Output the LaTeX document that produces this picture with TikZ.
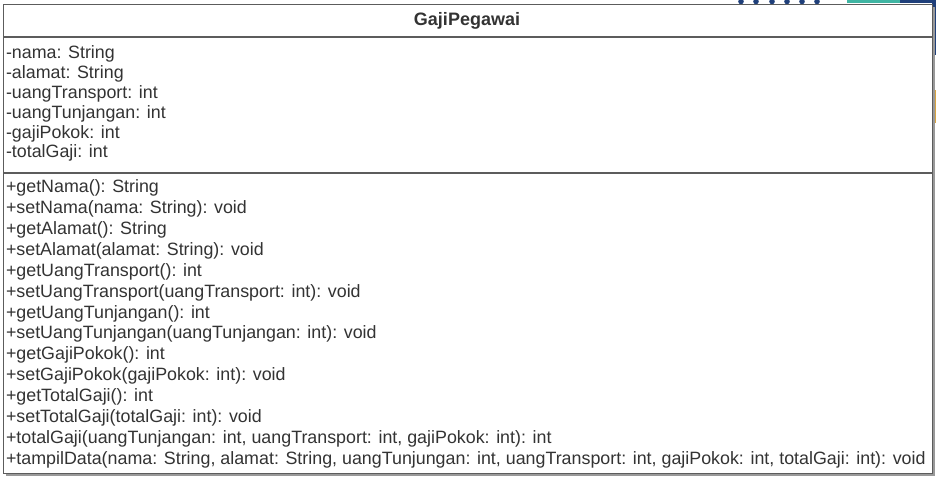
\documentclass[tikz,border=0pt]{standalone}
\usepackage{fontspec}
\setmainfont{Liberation Sans}
\usetikzlibrary{positioning, shadows}
\def\attrsep{19.8}
\def\opsep{20.85}
\definecolor{umlline}{HTML}{5C5C5C}
\definecolor{umltext}{HTML}{333333}
\definecolor{navy}{HTML}{1F3F7A}
\definecolor{seagreen}{HTML}{3FB5A3}
\definecolor{amber}{HTML}{D9A441}
\tikzstyle{class box}=[draw=umlline, line width=1.4pt, fill=white, inner sep=0pt,
  drop shadow={shadow xshift=2pt, shadow yshift=-2pt, fill=black!40, opacity=1}]
\tikzstyle{member}=[anchor=base west, inner sep=0pt, text=umltext, font=\fontsize{17.85}{20}\selectfont]
\tikzstyle{class name}=[member, anchor=base, font=\fontsize{18}{20}\selectfont\bfseries]
\tikzstyle{divider}=[draw=umlline, line width=1.4pt]

\begin{document}
\begin{tikzpicture}[x=1pt, y=-1pt]
\useasboundingbox (0,0) rectangle (936,478);

% Bits of the page behind the box
\foreach \x in {741,756,772,787,802,817}
\fill[navy] (\x,1.5) circle (2.8);
\fill[seagreen] (847,0) rectangle (900,3);
\fill[navy] (900,0) rectangle (936,3);
\fill[navy] (932,0) rectangle (936,55);
\fill[amber] (933,90) rectangle (936,123);

% The class box and its name
\node[class box, anchor=north west, minimum width=929pt, minimum height=469pt] (GP) at (3,4) {};
\node[class name] (GP-name) at (467,25.5) {GajiPegawai};

% Compartment dividers
\coordinate (div-1) at (0,37);
\coordinate (div-2) at (0,173);
\foreach \d in {1,2}
\draw[divider] (GP.west |- div-\d) -- (GP.east |- div-\d);

% Attributes
\foreach \txt [count=\i] in {-nama: String, -alamat: String, -uangTransport: int,
  -uangTunjangan: int, -gajiPokok: int, -totalGaji: int}
\node[member] (attr-\i) at (5.8,{59+\attrsep*(\i-1)}) {\txt};

% Operations
\foreach \txt [count=\i] in {+getNama(): String, +setNama(nama: String): void,
  +getAlamat(): String, +setAlamat(alamat: String): void,
  +getUangTransport(): int, +setUangTransport(uangTransport: int): void,
  +getUangTunjangan(): int, +setUangTunjangan(uangTunjangan: int): void,
  +getGajiPokok(): int, +setGajiPokok(gajiPokok: int): void,
  +getTotalGaji(): int, +setTotalGaji(totalGaji: int): void,
  {+totalGaji(uangTunjangan: int, uangTransport: int, gajiPokok: int): int},
  {+tampilData(nama: String, alamat: String, uangTunjungan: int, uangTransport: int, gajiPokok: int, totalGaji: int): void}}
\node[member] (op-\i) at (5.8,{193+\opsep*(\i-1)}) {\txt};
\end{tikzpicture}
\end{document}
